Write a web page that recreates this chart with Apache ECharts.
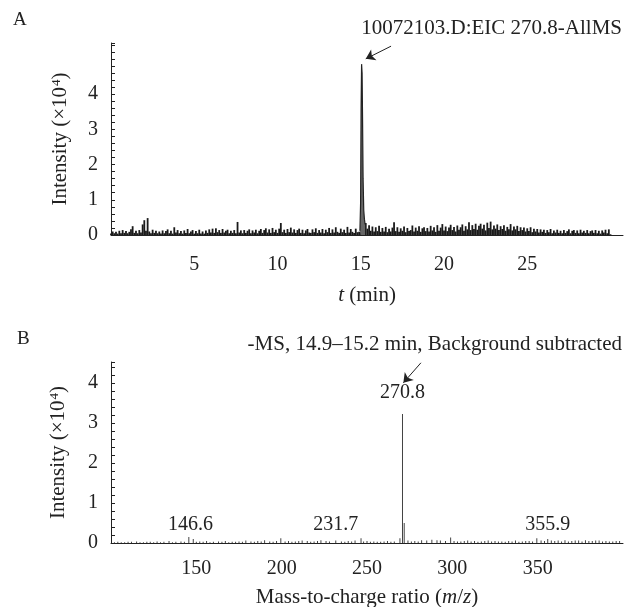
<!DOCTYPE html>
<html>
<head>
<meta charset="utf-8">
<script src="https://cdn.jsdelivr.net/npm/echarts@6/dist/echarts.min.js"></script>
<style>
  html, body { margin: 0; padding: 0; background: #fff; }
  #main { width: 635px; height: 607px; }
</style>
</head>
<body>
<div id="main"></div>
<script>
// A: EIC chromatogram, sampled every 0.1 min starting at 0
const tStart = 0
const tStep = 0.1
const eicNoise = [
  0.04, 0.10, 0.05, 0.09, 0.04, 0.12, 0.05, 0.14, 0.06, 0.11,
  0.05, 0.09, 0.16, 0.25, 0.06, 0.12, 0.05, 0.14, 0.07, 0.30,
  0.42, 0.12, 0.48, 0.10, 0.05, 0.15, 0.06, 0.12, 0.05, 0.10,
  0.04, 0.13, 0.05, 0.11, 0.16, 0.05, 0.12, 0.04, 0.22, 0.07,
  0.14, 0.05, 0.11, 0.04, 0.13, 0.06, 0.17, 0.05, 0.10, 0.14,
  0.04, 0.11, 0.05, 0.15, 0.04, 0.10, 0.04, 0.13, 0.06, 0.16,
  0.07, 0.18, 0.06, 0.19, 0.08, 0.14, 0.06, 0.17, 0.07, 0.12,
  0.15, 0.05, 0.12, 0.06, 0.14, 0.05, 0.37, 0.07, 0.13, 0.05,
  0.14, 0.06, 0.12, 0.16, 0.05, 0.13, 0.07, 0.15, 0.05, 0.12,
  0.17, 0.06, 0.14, 0.19, 0.07, 0.16, 0.06, 0.20, 0.08, 0.15,
  0.06, 0.18, 0.34, 0.08, 0.15, 0.06, 0.17, 0.08, 0.21, 0.07,
  0.16, 0.06, 0.14, 0.18, 0.06, 0.15, 0.05, 0.13, 0.17, 0.07,
  0.06, 0.16, 0.08, 0.19, 0.06, 0.14, 0.07, 0.17, 0.05, 0.15,
  0.08, 0.20, 0.06, 0.16, 0.07, 0.22, 0.09, 0.06, 0.18, 0.08,
  0.15, 0.06, 0.23, 0.07, 0.17, 0.09, 0.06, 0.18, 0.08, 0.09,
  0.15, 0.20, 0.25, 0.34, 0.18, 0.28, 0.12, 0.24, 0.10, 0.22,
  0.11, 0.26, 0.09, 0.20, 0.10, 0.23, 0.08, 0.18, 0.10, 0.21,
  0.36, 0.11, 0.22, 0.09, 0.19, 0.12, 0.24, 0.08, 0.20, 0.11,
  0.14, 0.27, 0.10, 0.21, 0.12, 0.25, 0.09, 0.19, 0.22, 0.11,
  0.20, 0.10, 0.26, 0.13, 0.22, 0.09, 0.28, 0.12, 0.21, 0.31,
  0.13, 0.24, 0.11, 0.21, 0.29, 0.14, 0.23, 0.10, 0.27, 0.15,
  0.22, 0.30, 0.12, 0.25, 0.16, 0.36, 0.14, 0.28, 0.17, 0.32,
  0.15, 0.26, 0.32, 0.18, 0.29, 0.13, 0.35, 0.20, 0.38, 0.16,
  0.27, 0.18, 0.30, 0.14, 0.25, 0.17, 0.28, 0.12, 0.23, 0.16,
  0.31, 0.13, 0.24, 0.16, 0.26, 0.11, 0.22, 0.14, 0.21, 0.10,
  0.19, 0.11, 0.22, 0.08, 0.18, 0.10, 0.17, 0.07, 0.16, 0.09,
  0.15, 0.06, 0.14, 0.08, 0.17, 0.05, 0.13, 0.07, 0.15, 0.06,
  0.12, 0.05, 0.14, 0.06, 0.11, 0.16, 0.05, 0.12, 0.14, 0.06,
  0.13, 0.05, 0.15, 0.07, 0.12, 0.06, 0.14, 0.05, 0.11, 0.13,
  0.06, 0.14, 0.05, 0.12, 0.04, 0.13, 0.07, 0.15, 0.05, 0.16,
  0.02
]
const peakTimes = [14.95, 14.99, 15.02, 15.05, 15.08, 15.11, 15.14, 15.18, 15.22, 15.26]
const peakValues = [0.12, 0.90, 3.60, 4.85, 4.60, 3.20, 1.60, 0.70, 0.45, 0.30]

// B: mass spectrum sticks
const specMz = [
  102, 104, 106, 108, 110, 112, 115, 117, 119, 121, 123, 125, 127, 129, 131, 134, 136, 138,
  141, 143, 145.6, 148.2, 150, 152, 154, 156, 158, 160, 163, 165, 167, 169, 171, 173, 175, 177,
  179, 182, 184, 186, 188, 190, 193, 195, 197, 199.5, 202, 204, 206, 208, 210, 212,
  215, 217, 219, 221, 223, 226, 228, 231.7, 235, 237, 239, 241, 243, 246.5, 248, 250,
  252, 254, 256, 258, 260, 262, 264, 266, 269.3, 270.8, 271.8, 274, 276, 278, 280, 282, 285, 288,
  291, 293, 296, 299, 301, 303, 305, 307, 309, 311, 313, 315, 317, 319, 321, 323, 325, 327,
  329, 331, 333, 335, 337, 339, 341, 343, 345, 347, 349.5, 352, 354, 355.9, 358, 360, 362, 364,
  366, 368, 370, 372, 374, 376, 378, 380, 382, 384, 386, 388, 390, 392, 394, 396, 398
]
const specInt = [
  0.02, 0.03, 0.02, 0.02, 0.03, 0.03, 0.04, 0.02, 0.02, 0.03, 0.03, 0.02, 0.04, 0.02, 0.03, 0.05, 0.02, 0.03,
  0.04, 0.03, 0.15, 0.10, 0.03, 0.04, 0.03, 0.05, 0.02, 0.03, 0.04, 0.03, 0.05, 0.02, 0.03, 0.03, 0.04, 0.03,
  0.06, 0.04, 0.03, 0.05, 0.04, 0.07, 0.04, 0.03, 0.05, 0.12, 0.04, 0.05, 0.03, 0.04, 0.05, 0.06,
  0.05, 0.03, 0.04, 0.05, 0.07, 0.05, 0.04, 0.06, 0.04, 0.03, 0.05, 0.04, 0.06, 0.12, 0.04, 0.05,
  0.03, 0.04, 0.03, 0.03, 0.04, 0.05, 0.03, 0.04, 0.12, 3.22, 0.50, 0.06, 0.04, 0.05, 0.04, 0.07, 0.06, 0.08,
  0.07, 0.06, 0.05, 0.14, 0.05, 0.04, 0.04, 0.05, 0.06, 0.04, 0.05, 0.03, 0.04, 0.05, 0.06, 0.04, 0.05, 0.04,
  0.04, 0.03, 0.05, 0.04, 0.06, 0.03, 0.04, 0.05, 0.05, 0.04, 0.12, 0.06, 0.05, 0.10, 0.06, 0.05, 0.06, 0.04,
  0.07, 0.04, 0.05, 0.06, 0.06, 0.04, 0.07, 0.05, 0.05, 0.06, 0.06, 0.04, 0.05, 0.04, 0.04, 0.05, 0.05
]
const labeledMz = [146.6, 231.7, 270.8, 355.9]

// tick labels
const yLabelsA = [0, 1, 2, 3, 4]
const xLabelsA = [5, 10, 15, 20, 25]
const yLabelsB = [0, 1, 2, 3, 4]
const xLabelsB = [150, 200, 250, 300, 350]

const serif = '"Liberation Serif", "DejaVu Serif", serif'
const ink = '#222'

function pick(list) {
  return v => list.some(x => Math.abs(x - v) < 1e-6) ? String(Math.round(v)) : ''
}

const eicData = eicNoise.map((v, i) => [+(tStart + i * tStep).toFixed(2), v])
const peakData = peakTimes.map((t, i) => [t, peakValues[i]])
const specData = specMz.map((m, i) => [m, specInt[i]])
const basePeak = 270.8
const basePeakInt = specInt[specMz.indexOf(basePeak)]

const tickLabel = {fontFamily: serif, fontSize: 20, color: ink}
const nameStyle = {
  fontFamily: serif, fontSize: 21, color: ink,
  rich: {
    i: {fontFamily: serif, fontSize: 21, color: ink, fontStyle: 'italic'},
    sup: {fontFamily: serif, fontSize: 13, color: ink, verticalAlign: 'top', padding: [0, 0, 8, 1]}
  }
}
const axisLineStyle = {show: true, lineStyle: {color: ink, width: 1}}
const arrowLine = {
  silent: true, symbol: ['none', 'arrow'], symbolSize: 9,
  lineStyle: {color: ink, width: 1, type: 'solid'}, label: {show: false}
}

let option = {
  animation: false,
  backgroundColor: '#fff',
  title: [
    {text: 'A', left: 13, top: 11, padding: 0, textStyle: {fontFamily: serif, fontSize: 19, fontWeight: 'normal', color: ink}},
    {text: 'B', left: 17, top: 330, padding: 0, textStyle: {fontFamily: serif, fontSize: 19, fontWeight: 'normal', color: ink}},
    {text: '10072103.D:EIC 270.8-AllMS', right: 13, top: 18, padding: 0, textStyle: {fontFamily: serif, fontSize: 21, fontWeight: 'normal', color: ink}},
    {text: '-MS, 14.9\u201315.2 min, Background subtracted', right: 13, top: 334, padding: 0, textStyle: {fontFamily: serif, fontSize: 21, fontWeight: 'normal', color: ink}}
  ],
  grid: [
    {left: 111, top: 43, width: 512, height: 192, outerBoundsMode: 'none'},
    {left: 111, top: 362, width: 512, height: 181, outerBoundsMode: 'none'}
  ],
  xAxis: [
    {
      gridIndex: 0, type: 'value', min: 0, max: 30.75, interval: 5,
      axisLine: axisLineStyle, axisTick: {show: false}, splitLine: {show: false},
      axisLabel: Object.assign({margin: 20, formatter: pick(xLabelsA)}, tickLabel),
      name: '{i|t} (min)', nameLocation: 'middle', nameGap: 50, nameTextStyle: nameStyle
    },
    {
      gridIndex: 1, type: 'value', min: 100, max: 400, interval: 50,
      axisLine: axisLineStyle, axisTick: {show: false}, splitLine: {show: false},
      axisLabel: Object.assign({margin: 16, formatter: pick(xLabelsB)}, tickLabel),
      name: 'Mass-to-charge ratio ({i|m}/{i|z})', nameLocation: 'middle', nameGap: 44, nameTextStyle: nameStyle
    }
  ],
  yAxis: [
    {
      gridIndex: 0, type: 'value', min: 0, max: 5.45, interval: 0.2,
      axisLine: axisLineStyle, axisTick: {show: true, inside: true, length: 4, lineStyle: {color: ink}},
      splitLine: {show: false},
      axisLabel: Object.assign({margin: 13, formatter: pick(yLabelsA)}, tickLabel),
      name: 'Intensity (\u00d710{sup|4})', nameLocation: 'middle', nameGap: 40, nameRotate: 90, nameTextStyle: nameStyle
    },
    {
      gridIndex: 1, type: 'value', min: 0, max: 4.52, interval: 0.2,
      axisLine: axisLineStyle, axisTick: {show: true, inside: true, length: 4, lineStyle: {color: ink}},
      splitLine: {show: false},
      axisLabel: Object.assign({margin: 13, formatter: pick(yLabelsB)}, tickLabel),
      name: 'Intensity (\u00d710{sup|4})', nameLocation: 'middle', nameGap: 42, nameRotate: 90, nameTextStyle: nameStyle
    }
  ],
  series: [
    {
      // dense noise drawn as a skyline of thin bars
      type: 'bar', xAxisIndex: 0, yAxisIndex: 0, data: eicData,
      barWidth: 1.8, itemStyle: {color: '#1a1a1a'},
      markLine: Object.assign({data: [[{coord: [16.82, 5.36]}, {coord: [15.3, 5.0]}]]}, arrowLine)
    },
    {
      type: 'line', xAxisIndex: 0, yAxisIndex: 0, data: peakData,
      symbol: 'none',
      lineStyle: {color: ink, width: 1.2},
      areaStyle: {color: '#666', opacity: 1}
    },
    {
      type: 'bar', xAxisIndex: 1, yAxisIndex: 1, data: specData,
      barWidth: 1, itemStyle: {color: '#444'},
      markLine: Object.assign({data: [[{coord: [281.6, 4.5]}, {coord: [271.3, 4.0]}]]}, arrowLine),
      markPoint: {
        silent: true, symbol: 'circle', symbolSize: 0,
        label: {show: true, position: 'inside', fontFamily: serif, fontSize: 20, color: ink},
        data: labeledMz.map(m => ({
          coord: [m, m === basePeak ? basePeakInt + 0.53 : 0.46],
          value: m.toFixed(1)
        }))
      }
    }
  ]
}

let myChart = echarts.init(document.getElementById('main'), null, {renderer: 'canvas'})
myChart.setOption(option)
</script>
</body>
</html>
